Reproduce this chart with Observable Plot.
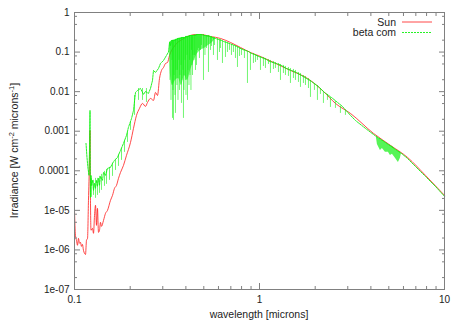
<!DOCTYPE html>
<html><head><meta charset="utf-8">
<script src="https://cdn.jsdelivr.net/npm/d3@7"></script>
<script src="https://cdn.jsdelivr.net/npm/@observablehq/plot@0.6"></script>
<style>body{margin:0;background:#fff} svg{display:block}</style>
</head><body><div id="chart"></div>
<script>
// Sun spectrum: [wavelength (microns), irradiance]
const sunSpectrum = [
[0.1,1.0e-5],[0.1012,2.34e-6],[0.1025,1.75e-6],[0.1038,1.31e-6],[0.1051,1.96e-6],[0.1064,1.47e-6],[0.1077,1.56e-6],[0.1091,1.23e-6],[0.1104,1.38e-6],[0.1118,9.8e-7],[0.1147,7.7e-7],[0.1161,1.75e-6],[0.1176,1.96e-6],[0.1190,1.79e-5],[0.1205,1.83e-4],[0.1213,1.05e-3],[0.1220,1.79e-5],[0.1228,3.13e-6],[0.1251,3.51e-6],[0.1267,2.63e-6],[0.1283,7.48e-6],[0.1299,1.34e-5],[0.1315,4.18e-6],[0.1331,1.12e-5],[0.1348,2.78e-6],[0.1365,3.13e-6],[0.1382,4.98e-6],[0.1399,3.94e-6],[0.1435,5.58e-6],[0.1471,8.4e-6],[0.1508,1.0e-5],[0.1565,1.79e-5],[0.1605,2.39e-5],[0.1645,3.6e-5],[0.1687,4.28e-5],[0.1729,6.43e-5],[0.1773,9.1e-5],[0.1840,1.37e-4],[0.1910,2.45e-4],[0.2008,5.21e-4],[0.2084,1.18e-3],[0.2163,2.51e-3],[0.2245,3.77e-3],[0.2331,5.04e-3],[0.2419,4.23e-3],[0.2481,5.33e-3],[0.2575,6.74e-3],[0.2673,6.0e-3],[0.2741,9.55e-3],[0.2810,8.0e-3],[0.2881,0.0216],[0.2953,0.0343],[0.3028,0.0408],[0.3104,0.0515],[0.3182,0.0546],[0.3263,0.082],[0.3345,0.1097],[0.3429,0.1306],[0.3559,0.165],[0.3741,0.196],[0.3981,0.234],[0.4236,0.263],[0.4508,0.278],[0.4798,0.278],[0.5433,0.248],[0.6153,0.221],[0.6968,0.175],[0.7895,0.1306],[0.894,0.0977],[1.0125,0.0774],[1.191,0.0546],[1.471,0.0343],[1.817,0.0216],[2.218,0.0101],[2.575,5.04e-3],[3.104,2.81e-3],[4.133,8.8e-4],[5.107,4.38e-4],[6.31,2.18e-4],[7.893,7.65e-5],[10,2.39e-5]
];
// beta com continuum (upper edge of the spectrum): [wavelength, irradiance]
const betaComContinuum = [
[0.1154,4.92e-4],[0.1168,2.18e-4],[0.1183,1.15e-4],[0.1198,7.65e-5],[0.1205,3.27e-4],[0.1213,3.35e-3],[0.1220,2.13e-5],[0.1228,7.65e-5],[0.1236,4.28e-5],[0.1251,5.73e-5],[0.1267,3.2e-5],[0.1283,4.81e-5],[0.1299,3.6e-5],[0.1315,5.73e-5],[0.1331,4.04e-5],[0.1348,6.43e-5],[0.1365,4.28e-5],[0.1382,7.22e-5],[0.1417,5.73e-5],[0.1435,9.1e-5],[0.1471,7.65e-5],[0.1508,1.15e-4],[0.1565,1.22e-4],[0.1605,1.54e-4],[0.1645,1.83e-4],[0.1708,2.18e-4],[0.1773,3.27e-4],[0.1840,4.92e-4],[0.1910,7.83e-4],[0.1957,1.25e-3],[0.2034,2.1e-3],[0.2084,3.35e-3],[0.2137,9.55e-3],[0.2190,0.0107],[0.2273,0.01205],[0.2360,8.5e-3],[0.2419,0.0101],[0.2511,9.01e-3],[0.2575,0.01205],[0.2640,0.0192],[0.2673,0.0343],[0.2741,0.0305],[0.2844,0.0385],[0.2916,0.0515],[0.3028,0.0614],[0.3142,0.082],[0.3221,0.1],
[0.3263,0.1747],[0.3304,0.1468],[0.3345,0.1963],[0.3470,0.1963],[0.3558,0.208],[0.3647,0.2205],[0.3739,0.2205],[0.3833,0.2337],[0.3930,0.2337],[0.4029,0.2477],[0.4131,0.2477],[0.4235,0.2626],[0.4507,0.2626],[0.4620,0.278],[0.4856,0.278],[0.5041,0.2626],[0.5365,0.2477],[0.5568,0.2337],[0.5780,0.2205],[0.6000,0.208],[0.6228,0.1963],[0.6385,0.1852],[0.6628,0.1747],[0.6880,0.1649],[0.7322,0.1468],[0.7695,0.1307],[0.8088,0.1163],[0.8396,0.1098],[0.8715,0.1036],[0.9046,0.0922],[0.9391,0.087],[0.9870,0.0774],[1.0245,0.0730],[1.0903,0.0650],[1.1318,0.0579],[1.2348,0.0515],[1.3140,0.0459],[1.3983,0.0385],[1.4880,0.0343],[1.5839,0.0305],[1.6856,0.0256],[1.7939,0.0215],[1.9094,0.0181],[2.0819,0.0135],[2.244,0.00955],[2.448,0.00714],[2.807,0.00423],[3.104,0.00251],[3.300,1.87e-3],[3.737,1.18e-3],[4.232,7.6e-4],[4.793,5.21e-4],[5.428,3.47e-4],[5.850,2.75e-4],[6.303,2.06e-4],[6.962,1.29e-4],[7.884,7.22e-5],[8.929,4.04e-5],[10,2.26e-5]
];
// beta com absorption lines: [wavelength, line bottom, continuum above it]
const betaComLines = [
[0.1236,2.13e-5,6.43e-5],[0.1267,2.39e-5,5.73e-5],[0.1299,2.01e-5,6.43e-5],[0.1331,2.39e-5,6.43e-5],[0.1365,2.69e-5,7.22e-5],[0.1399,3.2e-5,8.1e-5],[0.14525,4.04e-5,9.66e-5],[0.1489,4.54e-5,1.08e-4],[0.1546,5.73e-5,1.22e-4],[0.1605,7.22e-5,1.54e-4],[0.1666,1.02e-4,1.94e-4],[0.1729,1.29e-4,2.6e-4],[0.1795,1.83e-4,3.68e-4],[0.1863,2.92e-4,5.86e-4],[0.1934,5.21e-4,9.33e-4],[0.2008,1.05e-3,1.67e-3],[0.2110,2.51e-3,8.0e-3],[0.2218,6.0e-3,0.0120],[0.2331,6.0e-3,0.0120],[0.2449,5.34e-3,0.0120],
[0.3282,0.0192,0.1747],[0.3323,0.0060,0.185],[0.3365,0.0614,0.196],[0.3386,0.00211,0.196],[0.3407,0.0107,0.196],[0.3428,0.00188,0.196],[0.3450,0.0256,0.196],[0.3492,0.00802,0.196],[0.3513,0.00282,0.208],[0.3535,0.0343,0.208],[0.3580,0.0143,0.208],[0.3602,0.0343,0.2205],[0.3625,0.0060,0.2205],[0.3670,0.0614,0.2205],[0.3693,0.0107,0.2205],[0.3716,0.0256,0.2205],[0.3763,0.0459,0.2205],[0.3786,0.00504,0.2337],[0.3810,0.0192,0.2337],[0.3857,0.0343,0.2337],[0.3881,0.00211,0.2337],[0.3906,0.0107,0.2337],[0.3955,0.0614,0.2337],[0.3979,0.0192,0.2477],[0.4004,0.00802,0.2477],[0.4054,0.0821,0.2477],[0.4080,0.0060,0.2477],[0.4105,0.0343,0.2477],[0.4157,0.0143,0.2477],[0.4182,0.0614,0.2477],[0.4209,0.0256,0.2626],[0.4261,0.0107,0.2626],[0.4288,0.1098,0.2626],[0.4315,0.0459,0.2626],[0.4341,0.0256,0.2626],[0.4369,0.0821,0.2626],[0.4423,0.0614,0.2626],[0.4451,0.0821,0.2626],[0.4507,0.0343,0.2626],[0.4563,0.0459,0.278],[0.4620,0.1098,0.278],[0.4678,0.1233,0.278],[0.4737,0.0689,0.278],[0.4796,0.1098,0.278],[0.4856,0.1468,0.278],[0.4979,0.0192,0.278],[0.5072,0.0821,0.2626],[0.5168,0.1233,0.2626],[0.5298,0.0305,0.2626],[0.5432,0.1098,0.2477],[0.5500,0.1385,0.2477],[0.5638,0.0821,0.2337],[0.5709,0.1468,0.2337],[0.5926,0.0614,0.2205],[0.6076,0.0977,0.208],[0.6152,0.1233,0.208],[0.6307,0.0515,0.1963],[0.6546,0.0730,0.1852],[0.6711,0.0977,0.1747],[0.6880,0.1098,0.1649],[0.7053,0.0821,0.1555],[0.7231,0.0977,0.1468],[0.7414,0.0689,0.1468],[0.7601,0.0408,0.1385],[0.7792,0.0774,0.1307],[0.7988,0.0821,0.1233],[0.8292,0.0689,0.1163],[0.8608,0.0161,0.1036],[0.8935,0.0343,0.0977],[0.9275,0.0515,0.0922],[0.9509,0.0546,0.0870],[0.9748,0.0614,0.0821],[1.0120,0.0343,0.0774],[1.0504,0.0433,0.0730],[1.0768,0.0385,0.0689],[1.1178,0.0486,0.0650],[1.1460,0.0288,0.0614],[1.1895,0.0364,0.0579],[1.2196,0.0385,0.0546],[1.2660,0.0305,0.0515],[1.2980,0.0192,0.0486],[1.3473,0.0288,0.0459],[1.3811,0.0256,0.0433],[1.4337,0.0242,0.0408],[1.4699,0.0161,0.0385],[1.5257,0.0215,0.0364],[1.5643,0.0192,0.0343],[1.6239,0.0171,0.0305],[1.6649,0.0128,0.0288],[1.7281,0.0161,0.0256],[1.7719,0.0143,0.0242],[1.8394,0.0120,0.0215],[1.8858,0.00714,0.0192],[1.981,0.01072,0.0161],[2.0564,0.0060,0.0143],[2.1347,0.0085,0.0120],[2.2158,0.00504,0.01012],[2.3294,0.0060,0.0085],[2.4181,0.00399,0.00714],[2.5728,0.00377,0.00566],[2.7381,0.00282,0.00423],[2.914,0.00251,0.00335]
];
// beta com dense line forest near 0.33-0.58 microns: [wavelength, lower edge, upper edge]
const betaComForest = [
[0.3262,0.1747,0.1747],[0.3304,0.0256,0.185],[0.3386,0.0143,0.1963],[0.3513,0.0192,0.208],[0.3647,0.0215,0.2205],[0.3786,0.0143,0.2337],[0.3930,0.0256,0.2337],[0.4080,0.0192,0.2477],[0.4235,0.0343,0.2626],[0.4396,0.0546,0.2626],[0.4563,0.0821,0.278],[0.4796,0.1098,0.278],[0.5041,0.1233,0.2626],[0.5298,0.1468,0.2626],[0.5569,0.1747,0.2337],[0.5780,0.2205,0.2205]
];
// beta com 4.3 micron band: [wavelength, lower edge, upper edge]
const betaComBand = [
[4.28,7.1e-4,7.1e-4],[4.339,4.64e-4,6.97e-4],[4.504,3.27e-4,6.21e-4],[4.618,3.68e-4,5.86e-4],[4.793,2.92e-4,5.21e-4],[4.976,2.92e-4,4.64e-4],[5.101,2.45e-4,4.38e-4],[5.230,2.60e-4,4.13e-4],[5.428,2.06e-4,3.47e-4],[5.635,1.63e-4,3.09e-4],[5.777,2.06e-4,2.92e-4],[5.850,2.75e-4,2.75e-4]
];
const seriesNames = ["Sun", "beta com"];
const seriesColors = ["#ff1a1a", "#10f010"];
const xTickValues = [0.1, 1, 10];
const xTickLabels = ["0.1", "1", "10"];
const yTickValues = [1, 0.1, 0.01, 0.001, 0.0001, 1e-5, 1e-6, 1e-7];
const yTickLabels = ["1", "0.1", "0.01", "0.001", "0.0001", "1e-05", "1e-06", "1e-07"];
const xMinorSteps = [2, 3, 4, 5, 6, 7, 8, 9];
const yMinorSteps = [2, 5, 8];
const xLabel = "wavelength [microns]";

const sun = sunSpectrum.map(([w, v]) => ({w, v}));
const beta = betaComContinuum.map(([w, v]) => ({w, v}));
const lines = betaComLines.map(([w, lo, hi]) => ({w, lo, hi}));
const forest = betaComForest.map(([w, lo, hi]) => ({w, lo, hi}));
const band = betaComBand.map(([w, lo, hi]) => ({w, lo, hi}));
const xMinor = xTickValues.slice(0, -1).flatMap(d => xMinorSteps.map(k => d * k));
const yMinor = yTickValues.slice(1).flatMap(d => yMinorSteps.map(k => d * k));
const axisGray = "#808080";

const plot = Plot.plot({
  width: 463, height: 322,
  marginLeft: 74, marginRight: 19, marginTop: 12, marginBottom: 33,
  style: {fontFamily: "'Liberation Sans', Arial, sans-serif", fontSize: "10px", color: "#222", background: "#fff"},
  x: {type: "log", domain: [0.1, 10]},
  y: {type: "log", domain: [1e-7, 1]},
  marks: [
    Plot.line(sun, {x: "w", y: "v", stroke: seriesColors[0], strokeWidth: 0.8, curve: "monotone-x"}),
    Plot.areaY(forest, {x: "w", y1: "lo", y2: "hi", fill: seriesColors[1], fillOpacity: 0.6, curve: "monotone-x"}),
    Plot.areaY(band, {x: "w", y1: "lo", y2: "hi", fill: seriesColors[1], fillOpacity: 0.7}),
    Plot.ruleX(lines, {x: "w", y1: "lo", y2: "hi", stroke: seriesColors[1], strokeWidth: 0.8, strokeOpacity: 0.75}),
    Plot.line(beta, {x: "w", y: "v", stroke: seriesColors[1], strokeWidth: 0.9, strokeDasharray: "2,1"}),
    Plot.frame({stroke: axisGray}),
    ...["bottom", "top"].flatMap(a => [
      Plot.axisX(xTickValues, {anchor: a, tickSize: -6, tickFormat: () => "", label: null, stroke: axisGray}),
      Plot.axisX(xMinor, {anchor: a, tickSize: -3, tickFormat: () => "", label: null, stroke: axisGray})
    ]),
    ...["left", "right"].flatMap(a => [
      Plot.axisY(yTickValues, {anchor: a, tickSize: -6, tickFormat: () => "", label: null, stroke: axisGray}),
      Plot.axisY(yMinor, {anchor: a, tickSize: -3, tickFormat: () => "", label: null, stroke: axisGray})
    ]),
    Plot.axisX(xTickValues, {anchor: "bottom", tickSize: 0, tickPadding: 6, label: null,
      tickFormat: d => xTickLabels[xTickValues.indexOf(d)]}),
    Plot.axisY(yTickValues, {anchor: "left", tickSize: 0, tickPadding: 5, label: null,
      tickFormat: d => yTickLabels[yTickValues.indexOf(d)]})
  ]
});
document.getElementById("chart").append(plot);

const svg = d3.select(plot);
svg.append("text").attr("x", 259).attr("y", 318).attr("text-anchor", "middle")
  .attr("fill", "#222").style("font-size", "10.5px").text(xLabel);
const yl = svg.append("text").attr("transform", "translate(18,150.5) rotate(-90)")
  .attr("text-anchor", "middle").attr("fill", "#222").style("font-size", "10.5px");
yl.append("tspan").text("Irradiance [W cm");
yl.append("tspan").attr("dy", -4).style("font-size", "7.5px").text("-2");
yl.append("tspan").attr("dy", 4).text(" microns");
yl.append("tspan").attr("dy", -4).style("font-size", "7.5px").text("-1");
yl.append("tspan").attr("dy", 4).text("]");
seriesNames.forEach((name, i) => {
  const y = 22 + i * 10.5;
  svg.append("text").attr("x", 396).attr("y", y).attr("dy", "0.35em").attr("text-anchor", "end")
    .attr("fill", "#222").style("font-size", "10.5px").text(name);
  svg.append("line").attr("x1", 402).attr("x2", 432).attr("y1", y).attr("y2", y)
    .attr("stroke", seriesColors[i]).attr("stroke-width", i ? 0.9 : 0.8)
    .attr("stroke-dasharray", i ? "2,1" : null);
});
</script>
</body></html>
